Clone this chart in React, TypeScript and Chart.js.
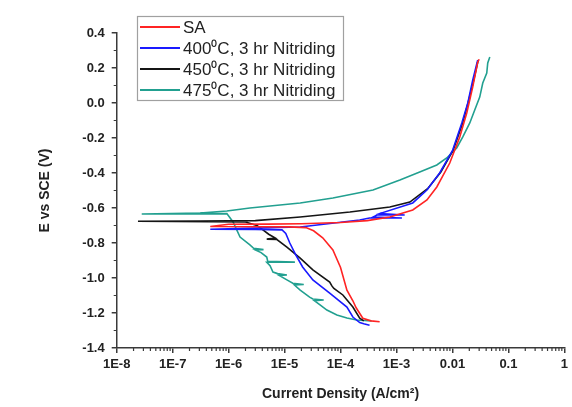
import React, { useEffect, useRef } from 'react';
import { Chart, registerables } from 'chart.js';

Chart.register(...registerables);

const seriesLabels = ['SA', '400⁰C, 3 hr Nitriding', '450⁰C, 3 hr Nitriding', '475⁰C, 3 hr Nitriding'];
const seriesColors = ['#ff2424', '#1a1aff', '#151515', '#22a090'];

const saCurrent = [5e-4, 3.5e-4, 2.5e-4, 1.9e-4, 1.66e-4, 1.3e-4, 1e-4, 7.3e-5, 4.8e-5, 3.3e-5, 2.4e-5, 1.2e-5, 3e-6, 4.7e-7, 1e-6, 5e-6, 2e-5, 1e-4, 3e-4, 7.6e-4, 1.95e-3, 3.5e-3, 5.25e-3, 8.95e-3, 0.0135, 0.018, 0.023, 0.0283, 0.03];
const saPotential = [-1.25, -1.245, -1.23, -1.17, -1.13, -1.07, -0.94, -0.84, -0.77, -0.73, -0.712, -0.708, -0.707, -0.706, -0.693, -0.692, -0.69, -0.683, -0.672, -0.651, -0.611, -0.554, -0.48, -0.343, -0.194, -0.057, 0.091, 0.234, 0.25];

const n400Current = [3.3e-4, 2.6e-4, 2.2e-4, 1.66e-4, 1.3e-4, 6.4e-5, 3.2e-5, 2.1e-5, 1.6e-5, 1.24e-5, 1.05e-5, 9e-6, 3e-6, 4.7e-7, 2e-6, 1.9e-5, 2.2e-4, 3.3e-4, 1.25e-3, 3.8e-4, 4.5e-4, 1.4e-3, 5e-4, 1.95e-3, 3.5e-3, 5.9e-3, 0.0101, 0.0147, 0.0188, 0.023, 0.0283];
const n400Potential = [-1.27, -1.262, -1.255, -1.223, -1.166, -1.086, -1.011, -0.937, -0.87, -0.8, -0.745, -0.725, -0.722, -0.721, -0.716, -0.709, -0.669, -0.657, -0.657, -0.652, -0.64, -0.64, -0.632, -0.571, -0.497, -0.4, -0.269, -0.114, 0.0, 0.131, 0.246];

const n450Current = [2.6e-4, 2.2e-4, 1.66e-4, 1.1e-4, 7.6e-5, 7.0e-5, 6.4e-5, 3.2e-5, 1.9e-5, 1.1e-5, 7.3e-6, 4.8e-6, 6.8e-6, 5.2e-6, 4.1e-6, 3.2e-6, 2e-6, 2.4e-8, 3.1e-7, 3e-6, 1.9e-5, 1.47e-4, 7.6e-4, 1.73e-3, 3.6e-3, 6.2e-3, 0.0103, 0.015, 0.019, 0.024, 0.0283, 0.029];
const n450Potential = [-1.245, -1.23, -1.166, -1.097, -1.06, -1.045, -1.023, -0.954, -0.886, -0.823, -0.78, -0.778, -0.772, -0.75, -0.725, -0.7, -0.68, -0.676, -0.674, -0.672, -0.651, -0.623, -0.594, -0.566, -0.49, -0.394, -0.269, -0.12, 0.0, 0.131, 0.234, 0.245];

const n475Current = [3.6e-4, 1.95e-4, 1.3e-4, 8.6e-5, 5.7e-5, 4.3e-5, 3.4e-5, 5e-5, 3.2e-5, 2.8e-5, 1.9e-5, 1.5e-5, 2.2e-5, 1.4e-5, 1.1e-5, 8e-6, 1.1e-5, 7.5e-6, 6.2e-6, 5.5e-6, 4.8e-6, 1.53e-5, 5e-6, 4.8e-6, 3.8e-6, 3.0e-6, 4.2e-6, 2.8e-6, 2.4e-6, 1.6e-6, 1.2e-6, 9.3e-7, 2.8e-8, 3.1e-7, 9.3e-7, 2.4e-6, 1.9e-5, 7.3e-5, 3.8e-4, 1.15e-3, 2.6e-3, 5.25e-3, 7.9e-3, 0.0119, 0.0153, 0.0204, 0.025, 0.0307, 0.0348, 0.041, 0.0427, 0.0465];
const n475Potential = [-1.246, -1.24, -1.229, -1.211, -1.183, -1.154, -1.13, -1.126, -1.12, -1.109, -1.069, -1.04, -1.037, -1.03, -1.011, -0.985, -0.983, -0.975, -0.966, -0.93, -0.91, -0.909, -0.905, -0.88, -0.855, -0.84, -0.838, -0.83, -0.811, -0.766, -0.68, -0.632, -0.634, -0.629, -0.617, -0.6, -0.571, -0.543, -0.497, -0.44, -0.394, -0.354, -0.314, -0.257, -0.194, -0.114, -0.04, 0.034, 0.114, 0.171, 0.229, 0.263];

const xTickValues = [1e-8, 1e-7, 1e-6, 1e-5, 1e-4, 1e-3, 1e-2, 1e-1, 1];
const xTickLabels = ['1E-8', '1E-7', '1E-6', '1E-5', '1E-4', '1E-3', '0.01', '0.1', '1'];
const xMinorSteps = [2, 3, 4, 5, 6, 7, 8, 9];
const yTickValues = [-1.4, -1.2, -1.0, -0.8, -0.6, -0.4, -0.2, 0.0, 0.2, 0.4];
const yTickLabels = ['-1.4', '-1.2', '-1.0', '-0.8', '-0.6', '-0.4', '-0.2', '0.0', '0.2', '0.4'];
const yMinorValues = [-1.3, -1.1, -0.9, -0.7, -0.5, -0.3, -0.1, 0.1, 0.3];

const FONT = '"Liberation Sans", Arial, Helvetica, sans-serif';
const AXIS_COLOR = '#3a3a3a';

const zip = (xs: number[], ys: number[]) => xs.map((x, i) => ({ x, y: ys[i] }));

const decorPlugin = {
  id: 'decor',
  afterDraw(chart: any) {
    const ctx = chart.ctx as CanvasRenderingContext2D;
    const xs = chart.scales.x;
    const ys = chart.scales.y;
    const ca = chart.chartArea;
    ctx.save();
    ctx.strokeStyle = AXIS_COLOR;
    ctx.lineWidth = 1.2;
    ctx.beginPath();
    xTickValues.slice(0, -1).forEach((dec) => {
      xMinorSteps.forEach((m) => {
        const px = xs.getPixelForValue(dec * m);
        ctx.moveTo(px, ca.bottom);
        ctx.lineTo(px, ca.bottom + 3);
      });
    });
    yMinorValues.forEach((v) => {
      const py = ys.getPixelForValue(v);
      ctx.moveTo(ca.left - 3, py);
      ctx.lineTo(ca.left, py);
    });
    ctx.stroke();

    // legend box
    const bx = 137.5, by = 16.5, bw = 206, bh = 84;
    ctx.fillStyle = '#ffffff';
    ctx.fillRect(bx, by, bw, bh);
    ctx.strokeStyle = '#a0a0a0';
    ctx.lineWidth = 1.2;
    ctx.strokeRect(bx, by, bw, bh);
    chart.data.datasets.forEach((ds: any, i: number) => {
      const cy = 27 + i * 21;
      ctx.strokeStyle = ds.borderColor;
      ctx.lineWidth = 2;
      ctx.beginPath();
      ctx.moveTo(140, cy);
      ctx.lineTo(180, cy);
      ctx.stroke();
      ctx.fillStyle = '#222';
      ctx.font = `17px ${FONT}`;
      ctx.textBaseline = 'middle';
      ctx.textAlign = 'left';
      ctx.fillText(ds.label, 183, cy + 1);
    });
    ctx.restore();
  },
};

export default function App() {
  const ref = useRef<HTMLCanvasElement | null>(null);
  useEffect(() => {
    if (!ref.current) return;
    const series = [
      zip(saCurrent, saPotential),
      zip(n400Current, n400Potential),
      zip(n450Current, n450Potential),
      zip(n475Current, n475Potential),
    ];
    const chart = new Chart(ref.current, {
      type: 'scatter',
      data: {
        datasets: series.map((d, i) => ({
          label: seriesLabels[i],
          data: d,
          showLine: true,
          borderColor: seriesColors[i],
          backgroundColor: seriesColors[i],
          borderWidth: 1.6,
          pointRadius: 0,
          tension: 0,
        })),
      },
      options: {
        responsive: false,
        animation: false,
        layout: { padding: { top: 33, right: 7, left: 0, bottom: 0 } },
        plugins: { legend: { display: false }, tooltip: { enabled: false } },
        scales: {
          x: {
            type: 'logarithmic',
            min: 1e-8,
            max: 1,
            afterFit: (s: any) => { s.height = 59; },
            afterBuildTicks: (s: any) => { s.ticks = xTickValues.map((v) => ({ value: v, major: true })); },
            ticks: {
              autoSkip: false,
              maxRotation: 0,
              padding: 4,
              color: '#222',
              font: { family: FONT, size: 13, weight: 'bold' },
              callback: (v: any) => {
                const idx = xTickValues.findIndex((t) => Math.abs(Math.log10(t) - Math.log10(Number(v))) < 1e-6);
                return idx >= 0 ? xTickLabels[idx] : '';
              },
            },
            grid: { display: true, drawOnChartArea: false, drawTicks: true, tickLength: 5, color: AXIS_COLOR, lineWidth: 1.5 },
            border: { display: true, color: AXIS_COLOR, width: 1.5 },
            title: {
              display: true,
              text: 'Current Density (A/cm²)',
              color: '#222',
              font: { family: FONT, size: 14, weight: 'bold' },
              padding: { top: 0, bottom: 4 },
            },
          },
          y: {
            type: 'linear',
            min: -1.4,
            max: 0.4,
            afterFit: (s: any) => { s.width = 116.7; },
            afterBuildTicks: (s: any) => { s.ticks = yTickValues.map((v) => ({ value: v })); },
            ticks: {
              padding: 7,
              color: '#222',
              font: { family: FONT, size: 13, weight: 'bold' },
              callback: (v: any) => {
                const idx = yTickValues.findIndex((t) => Math.abs(t - Number(v)) < 1e-6);
                return idx >= 0 ? yTickLabels[idx] : '';
              },
            },
            grid: { display: true, drawOnChartArea: false, drawTicks: true, tickLength: 5, color: AXIS_COLOR, lineWidth: 1.5 },
            border: { display: true, color: AXIS_COLOR, width: 1.5 },
            title: {
              display: true,
              text: 'E vs SCE (V)',
              color: '#222',
              font: { family: FONT, size: 14, weight: 'bold' },
              padding: { top: 37, bottom: 0 },
            },
          },
        },
      },
      plugins: [decorPlugin],
    } as any);
    return () => chart.destroy();
  }, []);
  return (
    <div style={{ position: 'absolute', left: 0, top: 0, width: 572, height: 407, background: '#fff' }}>
      <canvas ref={ref} width={572} height={407} style={{ display: 'block' }} />
    </div>
  );
}
